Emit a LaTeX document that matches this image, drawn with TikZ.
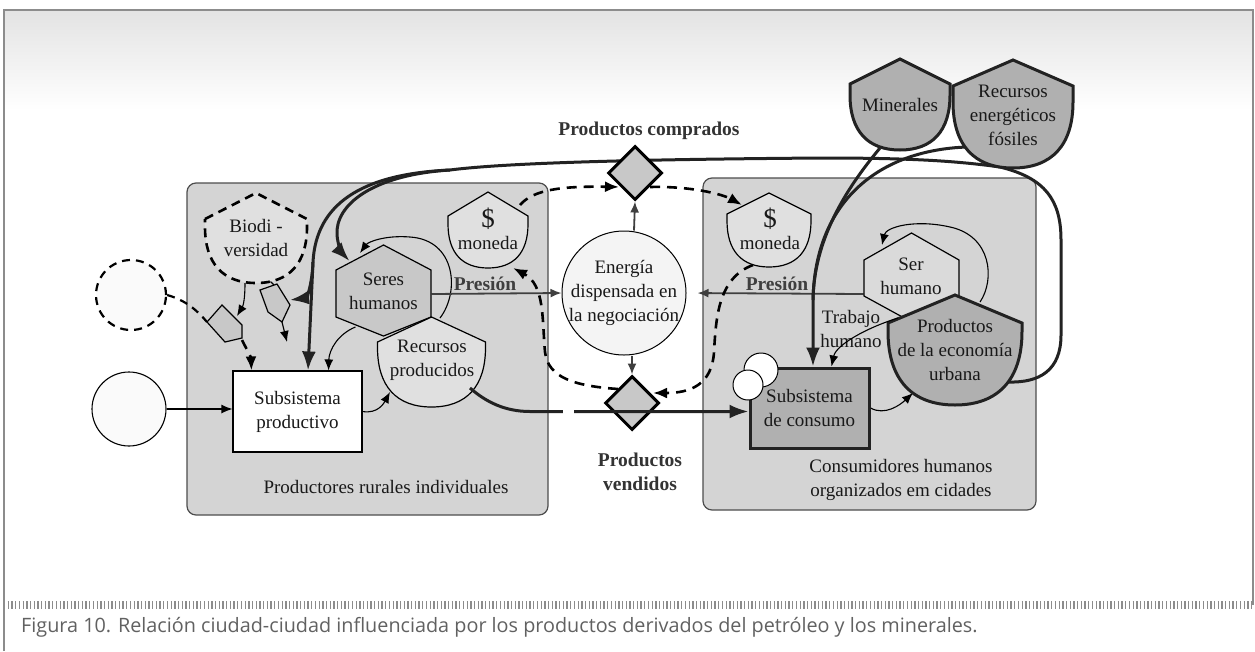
\documentclass[tikz,border=0pt]{standalone}
\usepackage{fontspec}
\setmainfont{Liberation Serif}
\newfontfamily\capfont{Open Sans}
\usetikzlibrary{arrows.meta,shapes.geometric,calc}

\definecolor{bgbox}{HTML}{D4D4D4}
\definecolor{edgegray}{HTML}{4D4D4D}
\definecolor{inkdark}{HTML}{222222}
\definecolor{presgray}{HTML}{3F3F3F}
\definecolor{midfill}{HTML}{C8C8C8}
\definecolor{serfill}{HTML}{DADADA}
\definecolor{lightfill}{HTML}{E0E0E0}
\definecolor{darkfill}{HTML}{B0B0B0}
\definecolor{paper}{HTML}{FAFAFA}
\definecolor{energyfill}{HTML}{F4F4F4}

\pgfdeclarelayer{boxes}
\pgfdeclarelayer{conn}
\pgfdeclarelayer{shapes}
\pgfdeclarelayer{top}
\pgfsetlayers{boxes,conn,shapes,main,top}

% storage tank: roof on top, rounded bottom  {style}{cx}{top}{half width}{shoulder y}{bottom y}
\newcommand\mkshield[6]{%
  \pgfmathsetmacro\shyc{max(#5,#6-1.1*#4)}%
  \pgfmathsetmacro\shyk{\shyc+0.65*(#6-\shyc)}%
  \path[#1] (#2-#4,#5) -- (#2,#3) -- (#2+#4,#5) -- (#2+#4,\shyc)
    .. controls (#2+#4,\shyk) and ({#2+0.65*#4},#6) .. (#2,#6)
    .. controls ({#2-0.65*#4},#6) and (#2-#4,\shyk) .. (#2-#4,\shyc) -- cycle;}
% consumer hexagon {style}{cx}{top}{half width}{upper y}{lower y}{bottom}
\newcommand\mkhex[7]{%
  \path[#1] (#2,#3) -- (#2+#4,#5) -- (#2+#4,#6) -- (#2,#7) -- (#2-#4,#6) -- (#2-#4,#5) -- cycle;}

\begin{document}
\begin{tikzpicture}[x=1pt,y=-1pt,
  txt/.style={font=\fontsize{19}{24}\selectfont, align=center, inner sep=0pt, text=black!90},
  boldlbl/.style={font=\fontsize{19.5}{24}\selectfont\bfseries, align=center, inner sep=0pt, text=black!80},
  boxbg/.style={draw=edgegray, line width=1.2pt, fill=bgbox, rounded corners=9pt},
  thinshape/.style={draw=black, line width=1.2pt},
  thickshape/.style={draw=inkdark, line width=3pt},
  thinarr/.style={draw=black, line width=1.1pt, -{Latex[length=11pt,width=9pt]}},
  thickarr/.style={draw=inkdark, line width=3pt, -{Latex[length=19pt,width=14pt]}},
  thickline/.style={draw=inkdark, line width=3pt},
  dasharr/.style={draw=black, line width=2.6pt, dash pattern=on 10pt off 7pt, -{Latex[length=14pt,width=11pt]}},
  grayarr/.style={draw=presgray, line width=1.8pt, -{Latex[length=11pt,width=9pt]}},
  dia/.style={shape=diamond, draw=black, line width=3pt, fill=midfill, minimum width=54pt, minimum height=54pt, inner sep=0pt},
]
\useasboundingbox (0,0) rectangle (1255,651);

\begin{pgfonlayer}{boxes}
  \fill[white] (0,0) rectangle (1255,651);
  \shade[top color=black!11, bottom color=white] (4,10) rectangle (1253,110);
  \draw[black!45, line width=1.5pt] (4,651) -- (4,10) -- (1253,10) -- (1253,605);
  \draw[boxbg] (187,183) rectangle (548,515);
  \draw[boxbg] (703,178) rectangle (1036,510);
\end{pgfonlayer}

% ---------- shapes ----------
\begin{pgfonlayer}{shapes}
  \mkshield{fill=lightfill, draw=black, line width=2.6pt, dash pattern=on 9pt off 6pt}{256}{193}{51}{219}{283}
  \mkhex{fill=midfill, thinshape}{383.5}{245}{47.5}{270}{317}{336}
  \mkshield{fill=lightfill, thinshape}{431.5}{317}{54}{342}{407}
  \mkshield{fill=lightfill, thinshape}{488}{192}{40}{216}{268}
  \mkshield{fill=lightfill, thinshape}{769}{193}{42}{214}{267}
  \mkhex{fill=serfill, thinshape}{911.5}{233}{47.5}{260}{296}{322}
  \mkshield{fill=darkfill, thickshape}{955}{295}{67}{323}{405}
  \mkshield{fill=darkfill, thickshape}{900}{59}{50}{84}{150}
  \mkshield{fill=darkfill, thickshape}{1013}{60}{60}{86}{168}
  % interaction symbols below the biodiversity tank
  \draw[thinshape, fill=midfill] (207,322) -- (222,305) -- (242,325) -- (242,338) -- (225,342) -- cycle;
  \draw[thinshape, fill=midfill] (260,290) -- (277,284) -- (290,305) -- (282,322) -- (268,312) -- cycle;
  \node[circle, draw=black, line width=2.2pt, dash pattern=on 8pt off 6pt, fill=paper, minimum size=70pt, inner sep=0pt] (leftdash) at (131,295) {};
  \node[circle, draw=black, line width=1.1pt, fill=paper, minimum size=74pt, inner sep=0pt] (src) at (129,409) {};
  \node[txt, draw=black, line width=1.1pt, fill=white, minimum width=129pt, minimum height=81pt] (productivo) at (297.5,411.5) {Subsistema\\productivo};
  \node[circle, draw=black, line width=1pt, fill=energyfill, minimum size=124pt, inner sep=0pt] (energia) at (624,293) {};
  \node[dia] (dtop) at (635,173) {};
  \node[dia] (dbot) at (632,403) {};
  \node[txt, draw=inkdark, line width=3pt, fill=darkfill, minimum width=119pt, minimum height=80pt] (consumo) at (809.5,408) {Subsistema\\de consumo};
  \node[circle, draw=black, line width=1pt, fill=white, minimum size=34pt, inner sep=0pt] (bulbA) at (761,370) {};
  \node[circle, draw=black, line width=1pt, fill=white, minimum size=30pt, inner sep=0pt] (bulbB) at (748,385) {};
\end{pgfonlayer}

% ---------- labels ----------
\node[txt] (bio) at (256,238) {Biodi -\\versidad};
\node[txt] (seres) at (383.5,291) {Seres\\humanos};
\node[txt] (recursos) at (432,360) {Recursos\\producidos};
\node[txt, font=\fontsize{27}{27}\selectfont] (monLs) at (488,219) {\$};
\node[txt] (monL) at (488,243) {moneda};
\node[txt, font=\fontsize{27}{27}\selectfont] (monRs) at (770,219) {\$};
\node[txt] (monR) at (770,243) {moneda};
\node[txt] (energiatxt) at (624,293) {Energía\\dispensada en\\la negociación};
\node[boldlbl] (comprados) at (649,131) {Productos comprados};
\node[boldlbl] (vendidos) at (640,472) {Productos\\vendidos};
\node[boldlbl, text=presgray] (presL) at (485,284) {Presión};
\node[boldlbl, text=presgray] (presR) at (777,284) {Presión};
\node[txt] (serh) at (911,276) {Ser\\humano};
\node[txt] (trabajo) at (851,328.5) {Trabajo\\humano};
\node[txt] (urbana) at (955,350) {Productos\\de la economía\\urbana};
\node[txt] (minerales) at (900,105) {Minerales};
\node[txt] (fosiles) at (1013,115) {Recursos\\energéticos\\fósiles};
\node[txt] (rurales) at (386,487) {Productores rurales individuales};
\node[txt] (urbanos) at (901,480) {Consumidores humanos\\organizados em cidades};

% caption strip
\draw[black!45, line width=8pt, dash pattern=on 1.3pt off 2.4pt] (4,605) -- (1253,605);
\node[anchor=west, inner sep=0pt, text=black!62, font=\capfont\fontsize{19.8}{22}\selectfont] (caption) at (21,627)
  {Figura 10. Relación ciudad-ciudad influenciada por los productos derivados del petróleo y los minerales.};

% helper points
\coordinate (pent1) at (224,323);
\coordinate (pent2) at (275,303);
\coordinate (pent2end) at (287,342);
\coordinate (J) at (450,170);
\coordinate (K) at (313,262);
\coordinate (merge) at (813,300);

% ---------- connectors ----------
\begin{pgfonlayer}{conn}
  % rural inputs
  \draw[thinarr] (src.east) -- (src.east -| productivo.west);
  \draw[draw=black, line width=2.2pt, dash pattern=on 8pt off 6pt] (leftdash.east) .. controls (185,300) and (197,310) .. ($(pent1)+(-17,-1)$);
  \draw[thinarr] ($(bio)+(-11,45)$) .. controls (245,300) and (243,306) .. ($(pent1)+(13,-7)$);
  \draw[black, line width=1.1pt] ($(bio)+(14,43)$) -- ($(pent2)+(-1,-18)$);
  \draw[dasharr] ($(pent1)+(18,17)$) .. controls (247,350) and (251,357) .. ($(productivo.north west)+(19,0)$);
  \draw[thinarr] ($(pent2)+(7,19)$) -- (pent2end);
  \draw[thinarr] ($(seres)+(-28,36)$) .. controls (338,334) and (329,350) .. ($(productivo.north east)+(-34,0)$);
  \draw[thinarr] (productivo.east) .. controls (378,414) and (384,403) .. ($(recursos)+(-42,32)$);
  \draw[thinarr] ($(recursos)+(8,-42)$) .. controls (460,292) and (456,240) .. (410,237) .. controls (385,235) and (368,242) .. ($(seres)+(-23.5,-38)$);
  % pressure on the negotiation
  \draw[grayarr] ($(seres)+(48,3)$) -- (energia.west);
  \draw[grayarr, shorten >=11pt] ($(serh)+(-47.5,18)$) -- (energia.east);
  \draw[grayarr] ($(energia.north)+(10,0)$) -- (dtop.south);
  \draw[grayarr] ($(energia.south)+(8,0)$) -- (dbot.north);
  % money and products exchange loop
  \draw[dasharr, shorten >=3pt] ($(monL)+(32,-38)$) .. controls (533,190) and (560,186) .. ($(dtop)+(-13,14)$);
  \draw[dasharr] ($(dtop)+(15,14)$) .. controls (690,186) and (722,194) .. ($(monR)+(-28,-38)$);
  \draw[dasharr, shorten >=4pt] ($(monR)+(-17,22)$) .. controls (718,278) and (716,318) .. (714,352) .. controls (712,385) and (690,393) .. ($(dbot)+(17,-10)$);
  \draw[dasharr] ($(dbot)+(-14,-14)$) .. controls (575,386) and (548,378) .. (545,352) .. controls (542,320) and (545,285) .. ($(monL)+(25,25)$);
  % urban side
  \draw[thinarr] (consumo.east) .. controls (885,416) and (900,405) .. ($(urbana)+(-42,43)$);
  \draw[thinarr] ($(urbana)+(25,-48)$) .. controls (995,280) and (992,236) .. (950,227) .. controls (915,219) and (886,227) .. ($(serh)+(-29,-31)$);
  % fossil and mineral inputs
  \draw[thickline] ($(fosiles)+(-46,32)$) .. controls (880,150) and (815,200) .. (merge);
  \draw[thickarr] ($(minerales)+(-20,43)$) .. controls (845,190) and (814,240) .. (merge) -- ($(consumo.north)+(3.5,0)$);
  % urban products fed back to the rural side
  \draw[thickline] ($(urbana)+(53,32)$) .. controls (1040,383) and (1061,370) .. (1061,335) -- (1061,240)
    .. controls (1061,200) and (1045,178) .. (1000,167) .. controls (950,160) and (900,158) .. (820,158)
    .. controls (700,159) and (520,161) .. (J);
  \draw[thickarr] (J) .. controls (372,175) and (335,205) .. (337,235) .. controls (338,246) and (342,253) .. ($(seres)+(-34,-30)$);
  \draw[thickarr] (J) .. controls (360,174) and (316,205) .. (K) -- ($(productivo.north)+(10.5,0)$);
  \draw[thickarr] (K) .. controls (312,287) and (306,298) .. ($(pent2)+(15,-3)$);
\end{pgfonlayer}

\begin{pgfonlayer}{top}
  \draw[thinarr] ($(serh)+(-13,42)$) .. controls (866,328) and (836,345) .. ($(consumo.north)+(22,0)$);
  \draw[thickarr] ($(recursos)+(38,28)$) .. controls (486,402) and (505,411.5) .. (530,411.5) -- ($(consumo.west)+(0,3.5)$);
  \draw[white, line width=5pt] (563,411.5) -- (574,411.5);
\end{pgfonlayer}
\end{tikzpicture}
\end{document}
